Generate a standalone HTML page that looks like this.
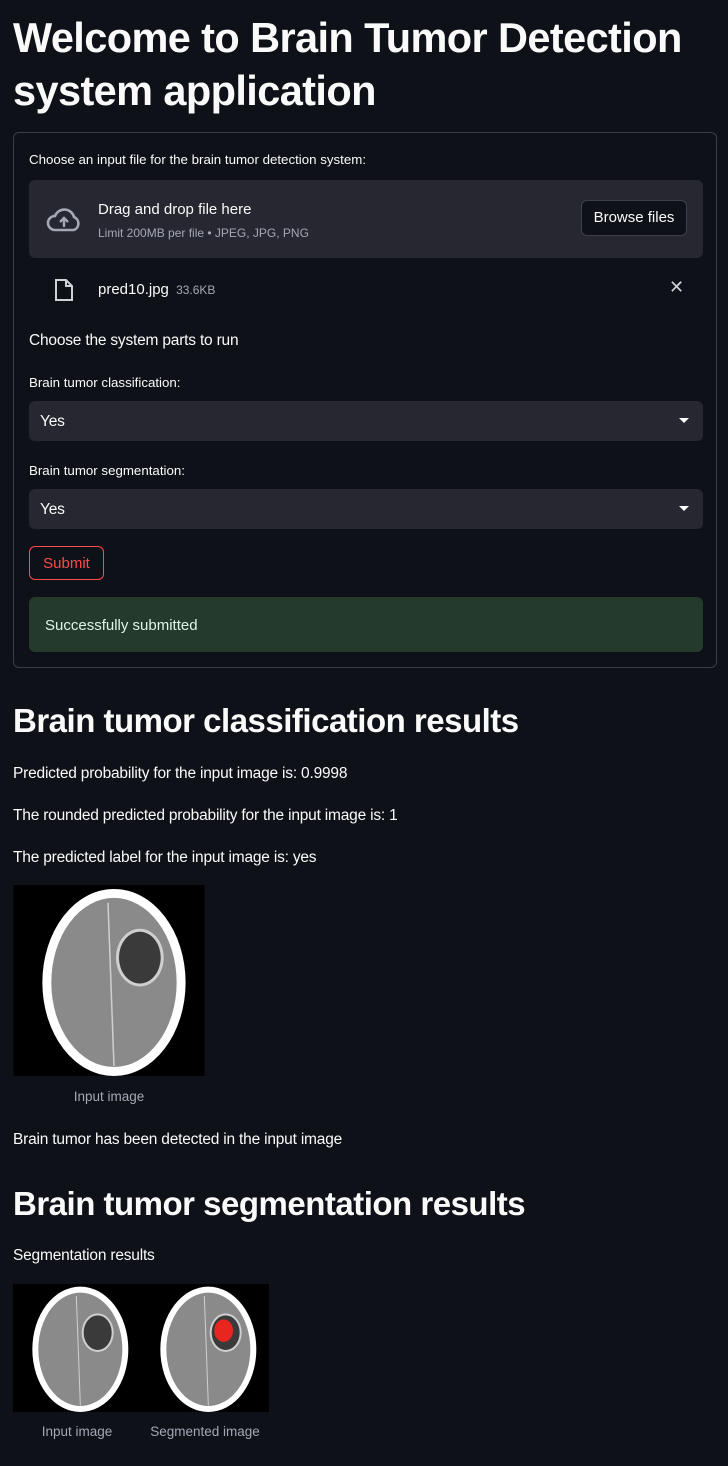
<!DOCTYPE html>
<html><head><meta charset="utf-8">
<style>
*{box-sizing:border-box;margin:0;padding:0}
body{width:728px;height:1466px;background:#0e1117;color:#fafafa;font-family:"Liberation Sans",sans-serif;position:relative;overflow:hidden}
.a{position:absolute;white-space:nowrap}
h1{position:absolute;left:13px;font-size:41.5px;font-weight:700;letter-spacing:-0.6px;line-height:53px}
h2{position:absolute;left:13px;font-size:33px;font-weight:700;letter-spacing:-0.5px;white-space:nowrap}
.p{font-size:15.5px;letter-spacing:-0.2px}
.sm{font-size:13.3px}
.box{position:absolute;background:#262730;border-radius:6px}
.cap{font-size:13.5px;color:#a3a8b4;text-align:center;position:absolute}
</style></head><body>
<svg width="0" height="0" style="position:absolute">
<defs>
<g id="brain">
<rect width="192" height="192" fill="#000"/>
<ellipse cx="101" cy="98" rx="72" ry="94" fill="#fff"/>
<ellipse cx="101" cy="98" rx="63" ry="85" fill="#8a8a8a"/>
<line x1="95" y1="18" x2="101" y2="182" stroke="#d0d0d0" stroke-width="1.5"/>
<ellipse cx="127" cy="73" rx="24" ry="29" fill="#cfcfcf"/>
<ellipse cx="127" cy="73" rx="21" ry="26" fill="#3a3a3a"/>
</g>
</defs></svg>

<h1 style="top:11px">Welcome to Brain Tumor Detection<br>system application</h1>

<div style="position:absolute;left:13px;top:132px;width:704px;height:536px;border:1px solid #3a3d45;border-radius:6px"></div>
<div class="a sm" style="left:29px;top:152px">Choose an input file for the brain tumor detection system:</div>
<div class="box" style="left:29px;top:180px;width:674px;height:78px"></div>
<svg class="a" style="left:45px;top:206px" width="38" height="28" viewBox="0 0 38 28"><path d="M10 24 H29 A7 7 0 0 0 29 11 A10 10 0 0 0 10 10 A7 7 0 0 0 10 24Z" fill="none" stroke="#a3a8b4" stroke-width="2.6"/><path d="M19 21 V13 M15 16 L19 12 L23 16" stroke="#a3a8b4" stroke-width="2.4" fill="none"/></svg>
<div class="a" style="left:98px;top:201px;font-size:15px">Drag and drop file here</div>
<div class="a" style="left:98px;top:226px;font-size:12px;color:#a3a8b4">Limit 200MB per file • JPEG, JPG, PNG</div>
<div class="a" style="left:581px;top:200px;width:106px;height:36px;border:1px solid #3d404a;border-radius:6px;background:#0e1117;font-size:15px;text-align:center;line-height:34px">Browse files</div>
<svg class="a" style="left:54px;top:278px" width="20" height="24" viewBox="0 0 20 24"><path d="M2 2 H12 L18 8 V22 H2Z M12 2 V8 H18" fill="none" stroke="#d0d2d8" stroke-width="2"/></svg>
<div class="a" style="left:98px;top:281px;font-size:15px">pred10.jpg <span style="font-size:12px;color:#a3a8b4;margin-left:3px">33.6KB</span></div>
<div class="a" style="left:669px;top:277px;font-size:18px;color:#d0d2d8">✕</div>

<div class="a p" style="left:29px;top:332px">Choose the system parts to run</div>
<div class="a sm" style="left:29px;top:375px">Brain tumor classification:</div>
<div class="box" style="left:29px;top:401px;width:674px;height:40px"><span class="a p" style="left:11px;top:12px">Yes</span><span class="a" style="left:650px;top:17px;border:5px solid transparent;border-top:5px solid #fafafa"></span></div>
<div class="a sm" style="left:29px;top:463px">Brain tumor segmentation:</div>
<div class="box" style="left:29px;top:489px;width:674px;height:40px"><span class="a p" style="left:11px;top:12px">Yes</span><span class="a" style="left:650px;top:17px;border:5px solid transparent;border-top:5px solid #fafafa"></span></div>
<div class="a" style="left:29px;top:546px;width:75px;height:34px;border:1px solid #ff4b4b;border-radius:6px;color:#ff4b4b;font-size:15px;text-align:center;line-height:33px">Submit</div>
<div class="a" style="left:29px;top:597px;width:674px;height:55px;background:#233a2d;border-radius:6px;color:#dff5e6;font-size:15px;padding:20px 16px">Successfully submitted</div>

<h2 style="top:702px">Brain tumor classification results</h2>
<div class="a p" style="left:13px;top:765px">Predicted probability for the input image is: 0.9998</div>
<div class="a p" style="left:13px;top:807px">The rounded predicted probability for the input image is: 1</div>
<div class="a p" style="left:13px;top:849px">The predicted label for the input image is: yes</div>
<svg class="a" style="left:13px;top:885px" width="192" height="191" viewBox="0 0 192 192"><use href="#brain"/></svg>
<div class="cap" style="left:13px;top:1089px;width:192px">Input image</div>
<div class="a p" style="left:13px;top:1131px">Brain tumor has been detected in the input image</div>

<h2 style="top:1185px">Brain tumor segmentation results</h2>
<div class="a p" style="left:13px;top:1247px">Segmentation results</div>
<svg class="a" style="left:13px;top:1284px" width="128" height="128" viewBox="0 0 192 192"><use href="#brain"/></svg>
<svg class="a" style="left:141px;top:1284px" width="128" height="128" viewBox="0 0 192 192"><use href="#brain"/><ellipse cx="124" cy="70" rx="14" ry="17" fill="#e8261f"/></svg>
<div class="cap" style="left:13px;top:1424px;width:128px">Input image</div>
<div class="cap" style="left:141px;top:1424px;width:128px">Segmented image</div>
</body></html>
